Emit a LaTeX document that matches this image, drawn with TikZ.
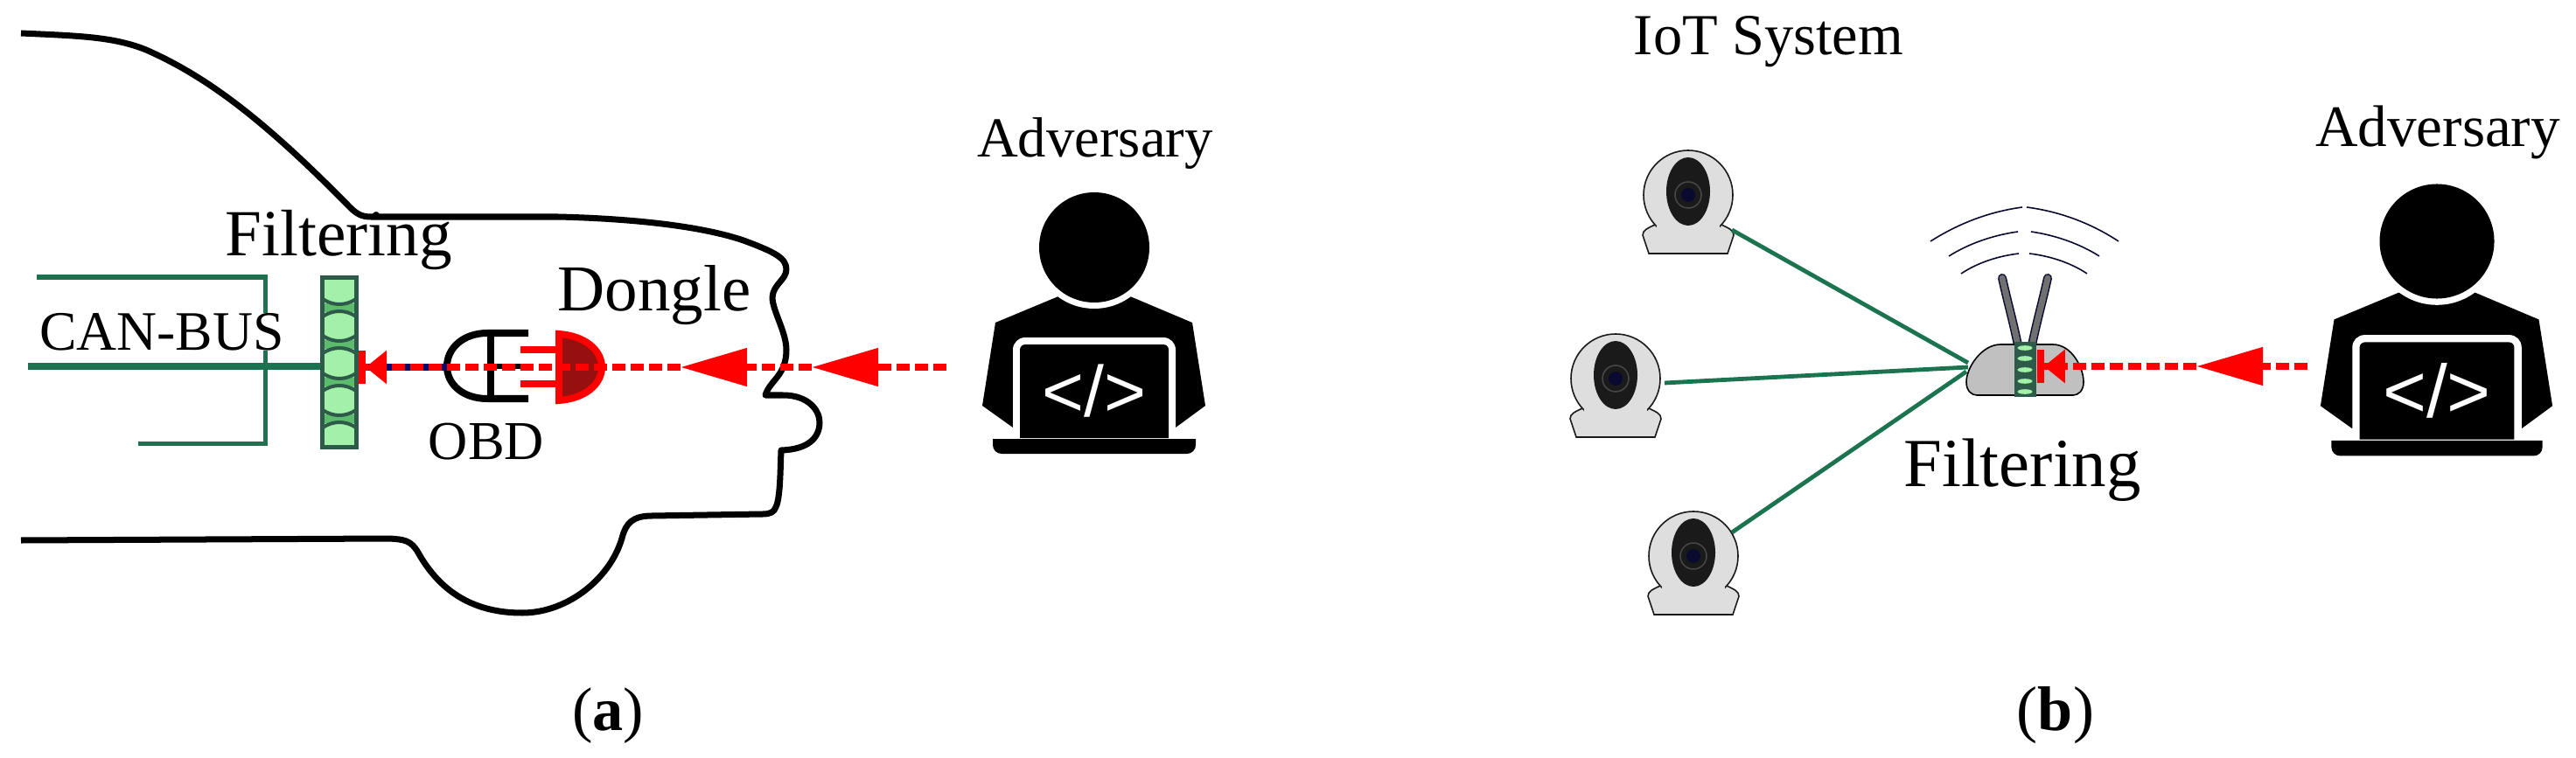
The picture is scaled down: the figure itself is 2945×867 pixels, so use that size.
\documentclass[tikz,border=0pt]{standalone}
\usepackage{fontspec}
\setmainfont{Liberation Serif}
\newfontfamily\codefont{Liberation Sans}
\usepackage{xcolor}
\usetikzlibrary{arrows.meta}

\definecolor{busgreen}{HTML}{1B7350}
\definecolor{filterdark}{HTML}{2E5A4A}
\definecolor{filterlight}{HTML}{A3F0A8}
\definecolor{filtermid}{HTML}{5CBB6C}
\definecolor{dongledark}{HTML}{95100F}
\definecolor{wirenavy}{HTML}{0A0A6E}
\definecolor{camgrey}{HTML}{DEDEDE}
\definecolor{camblack}{HTML}{1A1A1A}
\definecolor{camring}{HTML}{484848}
\definecolor{camlens}{HTML}{0A0A30}
\definecolor{routergrey}{HTML}{C0C0C0}
\definecolor{antennagrey}{HTML}{707070}

\newcommand{\sized}[1]{\fontsize{#1}{#1}\selectfont}

\tikzset{
    adversary/.pic={
        \fill (-41,56) -- (41,56) -- (112,86) -- (127,181) -- (93,206) -- (-93,206) -- (-128,181) -- (-113,86) -- cycle;
        \fill[white] (0,0) circle[radius=70];
        \fill (0,0) circle[radius=63];
        \fill[white] (-93,218) [rounded corners=.14cm] -- (-93,103) -- (93,103) [sharp corners] -- (93,218) -- cycle;
        \fill (-85,218) [rounded corners=.06cm] -- (-85,111) -- (85,111) [sharp corners] -- (85,218) -- cycle;
        \fill (-116,219) -- (116,219) [rounded corners=.1cm] -- (116,236) -- (-116,236) [sharp corners] -- cycle;
        \node[white, transform shape, inner sep=0pt, font=\codefont\sized{23.4}] (code) at (0,164) {</>};
    },
    camera/.pic={
        \draw[cam line, fill=camgrey] (-38,34) .. controls (-46,38) and (-52,40) .. (-52,46) -- (-45,67) -- (45,67) -- (52,46) .. controls (52,40) and (46,38) .. (38,34);
        \draw[cam line, fill=camgrey] (0,0) circle[radius=51];
        \fill[camgrey] (-36,30) rectangle (36,62);
        \fill[camblack] (0,-4) ellipse[x radius=25, y radius=39];
        \draw[camring, line width=.015cm] (0,0) circle[radius=15];
        \fill[camlens] (0,0) circle[radius=8];
    }
}

\begin{document}
\begin{tikzpicture}[x=.01cm, y=-.01cm,
    car line/.style={line width=.07cm, line join=round},
    cam line/.style={camblack, line width=.016cm},
    bus line/.style={busgreen, line width=.07cm},
    link line/.style={busgreen, line width=.048cm},
    attack line/.style={red, line width=.08cm, dash pattern=on .15cm off .06cm},
    head tip/.style={-{Triangle[length=.76cm, width=.42cm]}},
    last tip/.style={-{Triangle[length=.24cm, width=.37cm] Bar[width=.37cm, line width=.08cm]}},
    wave line/.style={camlens, line width=.016cm},
    label node/.style={anchor=base, inner sep=0pt}]
    \useasboundingbox (0,0) rectangle (2945,867);

    % car outline
    \draw[car line] (24,38) .. controls (90,41) and (130,42) .. (167,57) .. controls (235,87) and (300,135) .. (400,237) .. controls (408,245) and (414,248) .. (424,248) -- (638,248) .. controls (720,250) and (800,258) .. (850,275) .. controls (885,288) and (899,295) .. (899,308) .. controls (899,320) and (884,325) .. (883,340) .. controls (883,355) and (899,380) .. (899,400) .. controls (899,430) and (880,435) .. (875,452) -- (895,452) .. controls (925,452) and (937,470) .. (937,483) .. controls (937,500) and (925,514) .. (893,515) .. controls (892,540) and (892,570) .. (887,580) .. controls (885,586) and (880,588) .. (872,588) -- (745,590) .. controls (722,590) and (716,600) .. (712,612) .. controls (700,660) and (650,701) .. (597,701) .. controls (545,701) and (505,680) .. (478,632) .. controls (470,618) and (462,617) .. (445,616) -- (24,618);

    % CAN bus
    \coordinate (busL) at (32,419);
    \draw[busgreen, line width=.05cm] (42,317) -- (303,317) -- (303,507) -- (158,507);
    \node[label node, fill=white, font=\sized{18.1}] (can) at (185,400) {CAN-BUS};

    % filter on the bus
    \node[draw=filterdark, fill=filterlight, line width=.05cm, minimum width=.39cm, minimum height=1.94cm, inner sep=0pt] (filtA) at (388,414.5) {};
    \foreach \c in {352,394,437,479} {
        \fill[filtermid] (371,\c-5) rectangle (405,\c+5);
        \draw[filterdark, line width=.04cm] (369,\c-10) .. controls (381,\c-2) and (395,\c-2) .. (407,\c-10);
        \draw[filterdark, line width=.04cm] (369,\c+10) .. controls (381,\c+2) and (395,\c+2) .. (407,\c+10);
    }
    \draw[bus line] (busL) -- (busL -| filtA.west);

    % OBD socket
    \coordinate (obdL) at (511,420);
    \draw[line width=.08cm] (604,381) -- (557,381) .. controls (530,381) and (511,398) .. (511,419) .. controls (511,440) and (530,456) .. (557,456) -- (604,456);
    \draw[line width=.08cm] (561,381) -- (561,456);
    \draw[line width=.06cm] (561,419) -- (604,419);

    % dongle
    \draw[red, line width=.07cm] (595,400) -- (640,400);
    \draw[red, line width=.07cm] (595,439) -- (640,439);
    \draw[red, fill=dongledark, line width=.08cm] (639,382) .. controls (668,384) and (688,400) .. (688,420) .. controls (688,440) and (668,456) .. (639,458) -- cycle;

    % attack on the car
    \coordinate (advA) at (1082,420);
    \coordinate (tipA1) at (928,420);
    \coordinate (tipA2) at (778,420);
    \draw[wirenavy, line width=.07cm] (obdL) -- (obdL -| filtA.east);
    \draw[attack line, head tip] (advA) -- (tipA1);
    \draw[attack line, head tip] (tipA1) -- (tipA2);
    \draw[attack line, last tip] (tipA2) -- (tipA2 -| filtA.east);

    \pic at (1251,283) {adversary};

    \node[label node, font=\sized{21.4}] (filtLabelA) at (387,293) {Filtering};
    \node[label node, font=\sized{21.3}] (dongle) at (748,355) {Dongle};
    \node[label node, font=\sized{17.8}] (obd) at (556,525) {OBD};
    \node[label node, font=\sized{18.4}] (advLabelA) at (1252,180) {Adversary};
    \node[label node, font=\sized{20}] (capA) at (695,835) {(\textbf{a})};

    % cameras
    \pic at (1930,223) {camera};
    \pic at (1847,433) {camera};
    \pic at (1936,636) {camera};
    \coordinate (camA) at (1980,263);
    \coordinate (camB) at (1903,438);
    \coordinate (camC) at (1980,609);
    \coordinate (routerA) at (2250,415);
    \coordinate (routerB) at (2250,420);
    \coordinate (routerC) at (2248,425);
    \draw[link line] (camA) -- (routerA);
    \draw[link line] (camB) -- (routerB);
    \draw[link line] (camC) -- (routerC);

    % router
    \draw[wave line] (2207,276) .. controls (2240,255) and (2275,242) .. (2312,237);
    \draw[wave line] (2317,237) .. controls (2355,242) and (2390,255) .. (2422,276);
    \draw[wave line] (2228,293) .. controls (2250,279) and (2278,269) .. (2307,265);
    \draw[wave line] (2322,265) .. controls (2350,269) and (2378,279) .. (2400,293);
    \draw[wave line] (2242,313) .. controls (2260,301) and (2283,293) .. (2308,290);
    \draw[wave line] (2320,290) .. controls (2345,293) and (2368,301) .. (2386,313);
    \draw[camlens, line width=.1cm, line cap=round] (2289,318) .. controls (2295,345) and (2302,370) .. (2307,395);
    \draw[antennagrey, line width=.07cm, line cap=round] (2289,318) .. controls (2295,345) and (2302,370) .. (2307,395);
    \draw[camlens, line width=.1cm, line cap=round] (2341,318) .. controls (2335,345) and (2328,370) .. (2323,395);
    \draw[antennagrey, line width=.07cm, line cap=round] (2341,318) .. controls (2335,345) and (2328,370) .. (2323,395);
    \draw[fill=routergrey, line width=.016cm] (2287,394) -- (2347,394) .. controls (2368,394) and (2382,420) .. (2382,437) .. controls (2382,447) and (2376,452) .. (2370,452) -- (2260,452) .. controls (2254,452) and (2248,447) .. (2248,437) .. controls (2248,420) and (2266,394) .. (2287,394) -- cycle;
    \node[fill=filterdark, minimum width=.25cm, minimum height=.63cm, inner sep=0pt] (filtB) at (2315.5,422.5) {};
    \foreach \y in {398,410,423,436,448} {
        \fill[filterlight] (2315,\y) ellipse[x radius=8.5, y radius=2.8];
    }

    % attack on the router
    \coordinate (advB) at (2638,419);
    \coordinate (tipB1) at (2511,419);
    \draw[attack line, head tip] (advB) -- (tipB1);
    \draw[attack line, last tip] (tipB1) -- (tipB1 -| filtB.east);

    \pic[scale=1.04] at (2786,276) {adversary};

    \node[label node, font=\sized{18.9}] (iot) at (2022,63) {IoT System};
    \node[label node, font=\sized{22.4}] (filtLabelB) at (2312,556) {Filtering};
    \node[label node, font=\sized{19.1}] (advLabelB) at (2787,168) {Adversary};
    \node[label node, font=\sized{20.5}] (capB) at (2350,835) {(\textbf{b})};
\end{tikzpicture}
\end{document}
